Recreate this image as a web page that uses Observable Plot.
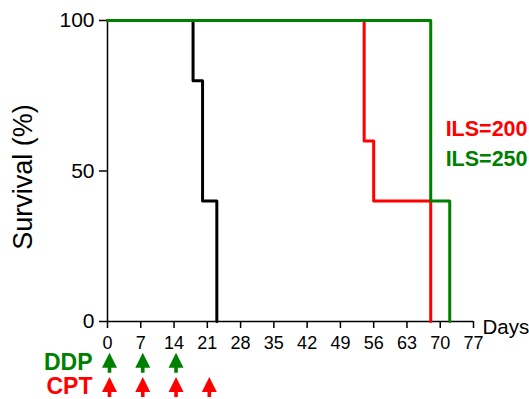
<!DOCTYPE html>
<html>
<head>
<meta charset="utf-8">
<script src="https://cdn.jsdelivr.net/npm/d3@7"></script>
<script src="https://cdn.jsdelivr.net/npm/@observablehq/plot@0.6"></script>
<style>
  html, body { margin: 0; padding: 0; background: #fff; }
  svg { display: block; }
</style>
</head>
<body>
<div id="chart"></div>
<script>
// Kaplan–Meier step data (day, survival %)
const controlDays = [0, 18, 20, 23];
const controlSurv = [100, 80, 40, 0];
const cptDays = [0, 54, 56, 68];
const cptSurv = [100, 60, 40, 0];
const ddpDays = [0, 68, 72];
const ddpSurv = [100, 40, 0];

const xTicks = [0, 7, 14, 21, 28, 35, 42, 49, 56, 63, 70, 77];
const yTicks = [0, 50, 100];

// treatment schedule (days)
const ddpDoses = [0, 7, 14];
const cptDoses = [0, 7, 14, 21];

const ilsLabels = ["ILS=200", "ILS=250"];
const colors = {control: "#000000", cpt: "#ff0000", ddp: "#008000"};

const toPts = (days, surv, g) => days.map((d, i) => ({day: d, surv: surv[i], g}));
const control = toPts(controlDays, controlSurv, "control");
const cpt = toPts(cptDays, cptSurv, "cpt");
const ddp = toPts(ddpDays, ddpSurv, "ddp");

// annotation rows below the axis (in survival units)
const ddpRowY = -13.7, cptRowY = -21.8;

const arrowSymbol = {
  draw(ctx) {
    ctx.moveTo(0, -10);
    ctx.lineTo(7.5, 5);
    ctx.lineTo(1.8, 5);
    ctx.lineTo(1.8, 10);
    ctx.lineTo(-1.8, 10);
    ctx.lineTo(-1.8, 5);
    ctx.lineTo(-7.5, 5);
    ctx.closePath();
  }
};

const font = "'Liberation Sans', Arial, Helvetica, sans-serif";

const chart = Plot.plot({
  width: 529,
  height: 399,
  marginLeft: 107,
  marginRight: 56,
  marginTop: 20,
  marginBottom: 78,
  style: {fontFamily: font, background: "#fff", color: "#000"},
  x: {domain: [0, 77]},
  y: {domain: [0, 100]},
  marks: [
    Plot.axisX({ticks: xTicks, tickSize: 7, strokeWidth: 1.5, label: null, tickFormat: () => ""}),
    Plot.text(xTicks, {x: d => d, y: () => 0, dy: 22, fontSize: 18, fill: "#000", text: d => String(d)}),
    Plot.axisY({ticks: yTicks, tickSize: 8, tickPadding: 5, fontSize: 21, strokeWidth: 1.5, label: null}),
    Plot.ruleX([0], {y1: 0, y2: 100, stroke: "#000", strokeWidth: 1.5}),
    Plot.ruleY([0], {x1: 0, x2: 77, stroke: "#000", strokeWidth: 1.5}),
    Plot.line(control, {x: "day", y: "surv", curve: "step-after", stroke: colors.control, strokeWidth: 3}),
    Plot.line(cpt, {x: "day", y: "surv", curve: "step-after", stroke: colors.cpt, strokeWidth: 3}),
    Plot.line(ddp, {x: "day", y: "surv", curve: "step-after", stroke: colors.ddp, strokeWidth: 3}),
    // Axis titles
    Plot.text(["Survival (%)"], {frameAnchor: "left", textAnchor: "middle", dx: -84, dy: 6, rotate: -90, fontSize: 27, fill: "#000"}),
    Plot.text(["Days"], {x: () => 77, y: () => 0, textAnchor: "start", dx: 9, dy: 6, fontSize: 20.5, fill: "#000"}),
    // ILS annotations
    Plot.text([ilsLabels[0]], {x: () => 77, y: () => 64, textAnchor: "end", dx: 54, fontSize: 21.5, fontWeight: "bold", fill: colors.cpt}),
    Plot.text([ilsLabels[1]], {x: () => 77, y: () => 54, textAnchor: "end", dx: 54, fontSize: 21.5, fontWeight: "bold", fill: colors.ddp}),
    // Treatment schedule
    Plot.text(["DDP"], {x: () => 0, y: () => ddpRowY, textAnchor: "end", dx: -15, fontSize: 23, fontWeight: "bold", fill: colors.ddp}),
    Plot.text(["CPT"], {x: () => 0, y: () => cptRowY, textAnchor: "end", dx: -15, fontSize: 23, fontWeight: "bold", fill: colors.cpt}),
    Plot.dot(ddpDoses, {x: d => d, y: () => ddpRowY, dx: 2, symbol: arrowSymbol, r: 6, fill: colors.ddp, stroke: "none"}),
    Plot.dot(cptDoses, {x: d => d, y: () => cptRowY, dx: 2, symbol: arrowSymbol, r: 6, fill: colors.cpt, stroke: "none"})
  ]
});
document.getElementById("chart").appendChild(chart);
</script>
</body>
</html>
